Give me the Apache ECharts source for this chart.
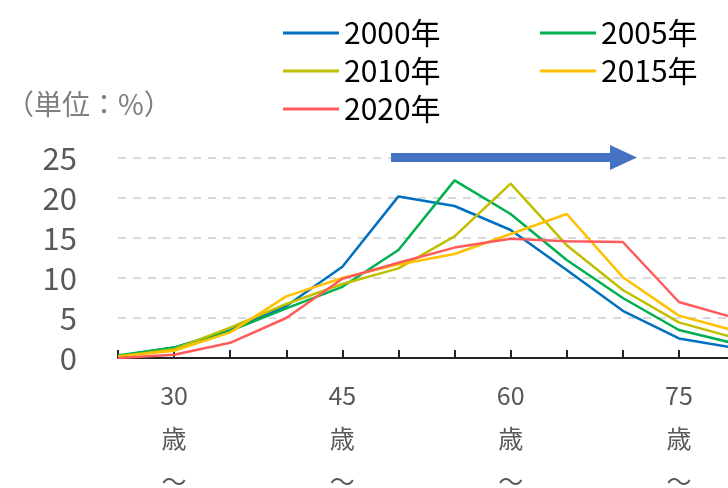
<!DOCTYPE html>
<html>
<head>
<meta charset="utf-8">
<script src="https://cdn.jsdelivr.net/npm/echarts@6/dist/echarts.min.js"></script>
<style>
  html, body { margin: 0; padding: 0; background: #fff; }
  #chart { width: 728px; height: 488px; }
</style>
</head>
<body>
<div id="chart"></div>
<script>
// 年齢階級（5歳刻み）
var ages = [25, 30, 35, 40, 45, 50, 55, 60, 65, 70, 75, 80]
var years = ['2000年', '2005年', '2010年', '2015年', '2020年']
var y2000 = [0.25, 1.3, 3.5, 6.5, 11.4, 20.2, 19.0, 16.0, 11.0, 5.9, 2.45, 1.25]
var y2005 = [0.3, 1.3, 3.4, 6.2, 8.9, 13.5, 22.2, 18.0, 12.25, 7.5, 3.5, 1.8]
var y2010 = [0.2, 1.1, 3.8, 6.75, 9.25, 11.2, 15.2, 21.8, 14.1, 8.5, 4.45, 2.5]
var y2015 = [0.2, 0.9, 3.2, 7.7, 10.0, 11.7, 13.0, 15.5, 18.0, 10.1, 5.3, 3.4]
var y2020 = [0, 0.4, 1.9, 5.0, 9.9, 11.9, 13.8, 14.9, 14.6, 14.5, 7.0, 5.0]
var yTicks = [0, 5, 10, 15, 20, 25]

var colors = ['#0070C0', '#00B050', '#BFBF00', '#FFC000', '#FF5B5B']
var font = '"Noto Sans CJK JP", "Noto Sans", sans-serif'

var chart = echarts.init(document.getElementById('chart'))

function makeLine(name, data) {
  return {
    name: name,
    type: 'line',
    data: data,
    symbol: 'none',
    lineStyle: { width: 2.5 },
    animation: false
  }
}

chart.setOption({
  backgroundColor: '#fff',
  color: colors,
  textStyle: { fontFamily: font },
  legend: {
    left: 278,
    top: 9,
    width: 540,
    itemGap: 0,
    itemWidth: 56,
    itemHeight: 3,
    icon: 'rect',
    data: years,
    textStyle: {
      color: '#000',
      fontSize: 30,
      width: 196,
      lineHeight: 38,
      padding: [0, 0, 0, 0]
    }
  },
  grid: {
    left: 118,
    top: 158,
    width: 617,
    height: 200,
    outerBoundsMode: 'none'
  },
  xAxis: {
    type: 'category',
    boundaryGap: false,
    data: ages,
    axisLine: { lineStyle: { color: '#262626', width: 2 } },
    axisTick: {
      inside: true,
      length: 8,
      interval: 0,
      lineStyle: { color: '#262626', width: 2 }
    },
    axisLabel: {
      interval: function (i) { return i % 3 === 1 },
      formatter: function (v) { return v + '\n歳\n〜' },
      color: '#595959',
      fontSize: 25,
      lineHeight: 43,
      margin: 16
    }
  },
  yAxis: {
    type: 'value',
    min: yTicks[0],
    max: yTicks[yTicks.length - 1],
    interval: 5,
    axisLine: { show: false },
    axisTick: { show: false },
    axisLabel: {
      color: '#595959',
      fontSize: 31,
      margin: 41
    },
    splitLine: {
      lineStyle: { color: '#D9D9D9', width: 2, type: [8, 7] }
    }
  },
  graphic: [
    {
      type: 'text',
      left: 6,
      top: 90,
      style: {
        text: '（単位：%）',
        fill: '#7F7F7F',
        font: '28px ' + font
      }
    },
    {
      type: 'polygon',
      shape: {
        points: [[391, 153], [610, 153], [610, 145], [637, 157.5], [610, 170], [610, 162], [391, 162]]
      },
      style: { fill: '#4472C4' },
      z: 10
    }
  ],
  series: [
    makeLine(years[0], y2000),
    makeLine(years[1], y2005),
    makeLine(years[2], y2010),
    makeLine(years[3], y2015),
    makeLine(years[4], y2020)
  ]
})

window.onresize = function () {
  chart.resize()
}
</script>
</body>
</html>
